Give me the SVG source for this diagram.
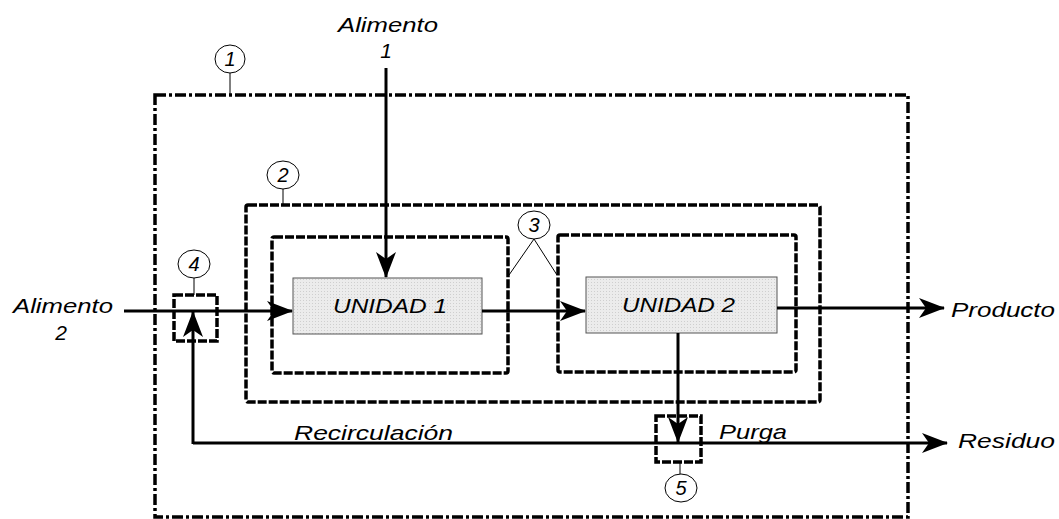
<svg xmlns="http://www.w3.org/2000/svg" width="1059" height="519" viewBox="0 0 1059 519">
<style>
text{font-family:"Liberation Sans",Arial,sans-serif;font-style:italic;fill:#000}
.lbl{font-size:21px}
.num{font-size:20px;text-anchor:middle}
.b1{fill:none;stroke:#000;stroke-width:3.5;stroke-dasharray:11 3 3 3}
.b2{fill:none;stroke:#000;stroke-width:3.5;stroke-dasharray:9 2}
.unit{stroke:#555;stroke-width:1}
.flow{fill:none;stroke:#000;stroke-width:3}
.thin{fill:none;stroke:#000;stroke-width:1}
.circ{fill:#fff;stroke:#000;stroke-width:1}
</style>
<defs>
<marker id="ah" markerWidth="26" markerHeight="20" refX="25" refY="10" markerUnits="userSpaceOnUse" orient="auto">
<path d="M0,0 L26,10 L0,20 L7,10 z" fill="#000"/>
</marker>
<pattern id="dots" width="3" height="3" patternUnits="userSpaceOnUse">
<rect width="3" height="3" fill="#ececec"/>
<rect width="1" height="1" fill="#cfcfcf"/>
</pattern>
</defs>
<g id="boundary1">
<rect class="b1" x="155" y="95" width="753" height="422"/>
<line class="thin" x1="230" y1="73" x2="230" y2="95"/>
<ellipse class="circ" cx="230" cy="59" rx="15" ry="14"/>
<text class="num" x="230" y="66">1</text>
</g>
<g id="boundary2">
<rect class="b2" x="246" y="205" width="574" height="197" rx="2"/>
<line class="thin" x1="283" y1="189" x2="283" y2="205"/>
<ellipse class="circ" cx="283" cy="175" rx="16" ry="14"/>
<text class="num" x="283" y="182">2</text>
</g>
<g id="boundary3">
<rect class="b2" x="272" y="237" width="236" height="136" rx="2"/>
<rect class="b2" x="558" y="235" width="238" height="137" rx="2"/>
<line class="thin" x1="534" y1="239" x2="509" y2="275"/>
<line class="thin" x1="534" y1="239" x2="557" y2="275"/>
<ellipse class="circ" cx="534" cy="225" rx="16" ry="14"/>
<text class="num" x="534" y="232">3</text>
</g>
<g id="unidad1">
<rect class="unit" x="293" y="278" width="189" height="56" style="fill:url(#dots)"/>
<text class="lbl" x="333" y="313" textLength="114" lengthAdjust="spacingAndGlyphs">UNIDAD 1</text>
</g>
<g id="unidad2">
<rect class="unit" x="586" y="277" width="191" height="56" style="fill:url(#dots)"/>
<text class="lbl" x="622" y="312" textLength="113" lengthAdjust="spacingAndGlyphs">UNIDAD 2</text>
</g>
<g id="connectors">
<line class="flow" x1="386" y1="68" x2="386" y2="277" marker-end="url(#ah)"/>
<line class="flow" x1="124" y1="311" x2="292" y2="311" marker-end="url(#ah)"/>
<line class="flow" x1="482" y1="311" x2="585" y2="311" marker-end="url(#ah)"/>
<line class="flow" x1="777" y1="308" x2="944" y2="308" marker-end="url(#ah)"/>
<line class="flow" x1="678" y1="333" x2="678" y2="442" marker-end="url(#ah)"/>
<line class="flow" x1="193" y1="443" x2="947" y2="443" marker-end="url(#ah)"/>
<line class="flow" x1="193" y1="444" x2="193" y2="312" marker-end="url(#ah)"/>
</g>
<g id="mixer4">
<rect class="b2" x="174" y="295" width="43" height="46"/>
<line class="thin" x1="194" y1="278" x2="194" y2="295"/>
<ellipse class="circ" cx="194" cy="264" rx="16" ry="14"/>
<text class="num" x="194" y="271">4</text>
</g>
<g id="splitter5">
<rect class="b2" x="656" y="416" width="45" height="46"/>
<line class="thin" x1="680" y1="462" x2="680" y2="474"/>
<ellipse class="circ" cx="681" cy="488" rx="16" ry="14"/>
<text class="num" x="681" y="495">5</text>
</g>
<g id="labels">
<text class="lbl" x="338" y="32" textLength="100" lengthAdjust="spacingAndGlyphs">Alimento</text>
<text class="lbl" x="386" y="58" text-anchor="middle">1</text>
<text class="lbl" x="13" y="313" textLength="100" lengthAdjust="spacingAndGlyphs">Alimento</text>
<text class="lbl" x="61" y="340" text-anchor="middle">2</text>
<text class="lbl" x="951" y="317" textLength="104" lengthAdjust="spacingAndGlyphs">Producto</text>
<text class="lbl" x="958" y="448" textLength="97" lengthAdjust="spacingAndGlyphs">Residuo</text>
<text class="lbl" x="294" y="440" textLength="159" lengthAdjust="spacingAndGlyphs">Recirculación</text>
<text class="lbl" x="719" y="439" textLength="68" lengthAdjust="spacingAndGlyphs">Purga</text>
</g>
</svg>
